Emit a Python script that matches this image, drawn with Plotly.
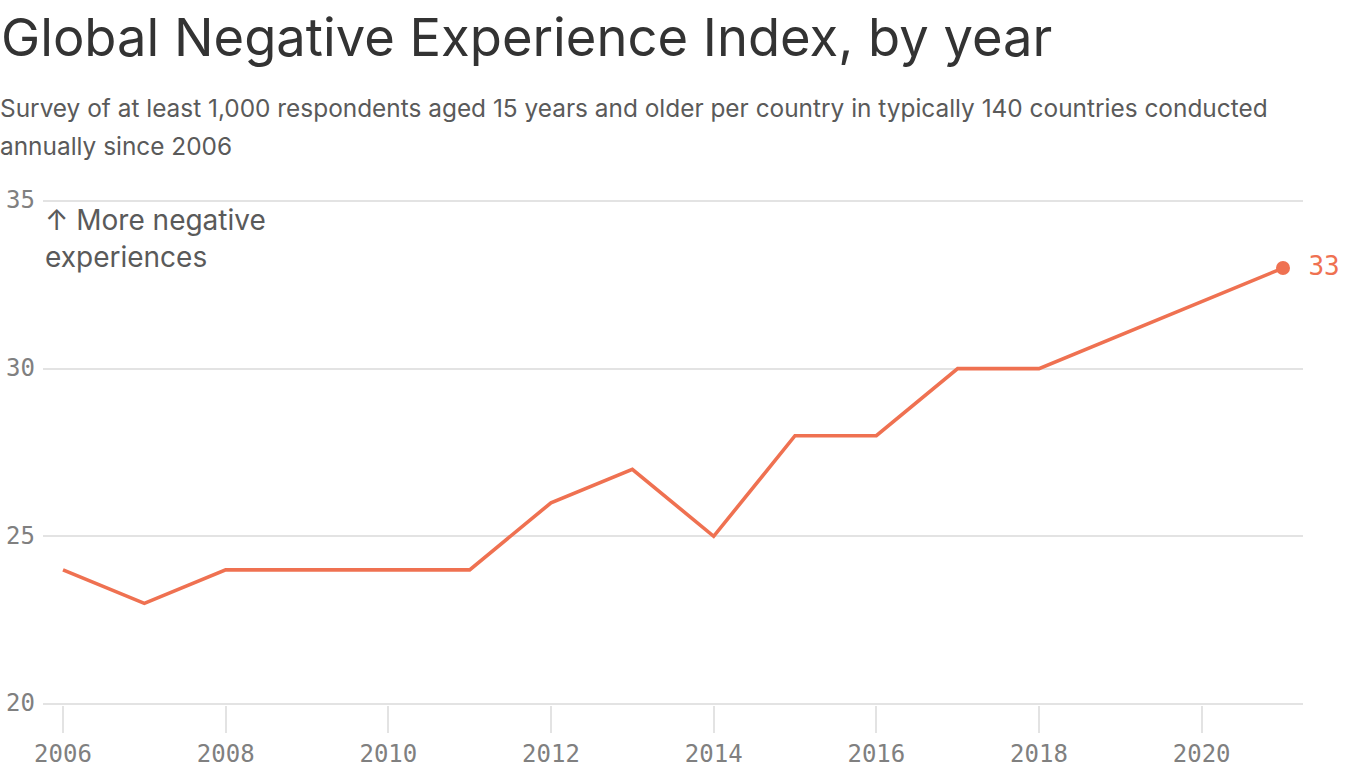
import plotly.graph_objects as go

years = list(range(2006, 2022))
index_values = [24, 23, 24, 24, 24, 24, 26, 27, 25, 28, 28, 30, 30, 31, 32, 33]
x_ticks = [2006, 2008, 2010, 2012, 2014, 2016, 2018, 2020]
y_ticks = [20, 25, 30, 35]

title = 'Global Negative Experience Index, by year'
subtitle_lines = [
    'Survey of at least 1,000 respondents aged 15 years and older per country in typically 140 countries conducted',
    'annually since 2006',
]
axis_note_lines = ['↑ More negative', 'experiences']

line_color = '#ef7151'
grid_color = '#e3e3e3'
mono = 'DejaVu Sans Mono'
sans = 'Inter'

# plot area in pixels
W, H = 1366, 768
L, R, T, B = 43, 63, 200, 63
pw, ph = W - L - R, H - T - B


def px_x(x):
    # pixel -> paper x
    return (x - L) / pw


def px_y(y):
    # pixel (from top) -> paper y
    return 1 - (y - T) / ph


fig = go.Figure()

fig.add_trace(go.Scatter(
    x=years, y=index_values,
    mode='lines',
    line=dict(color=line_color, width=3.6),
    hoverinfo='x+y',
    showlegend=False
))

# end point with label
fig.add_trace(go.Scatter(
    x=years[-1:], y=index_values[-1:],
    mode='markers+text',
    marker=dict(color=line_color, size=14),
    text=[f' {index_values[-1]}'],
    textposition='middle right',
    textfont=dict(family=mono, size=26, color=line_color),
    cliponaxis=False,
    showlegend=False
))

annotations = [
    dict(
        text=title,
        x=px_x(-1), y=px_y(37),
        yanchor='middle',
        font=dict(family=sans, size=52.5, color='#333333'),
    ),
]
for i, line in enumerate(subtitle_lines):
    annotations.append(dict(
        text=line,
        x=px_x(-2), y=px_y(108 + 38 * i),
        yanchor='middle',
        font=dict(family=sans, size=24.4, color='#5a5a5a'),
    ))
for i, line in enumerate(axis_note_lines):
    annotations.append(dict(
        text=line,
        x=px_x(43), y=px_y(220 + 37 * i),
        yanchor='middle',
        font=dict(family=sans, size=28, color='#5a5a5a'),
    ))
for a in annotations:
    a.update(xref='paper', yref='paper', xanchor='left', showarrow=False, align='left')

fig.update_layout(
    width=W, height=H,
    margin=dict(l=L, r=R, t=T, b=B),
    plot_bgcolor='white',
    paper_bgcolor='white',
    xaxis=dict(
        range=[2005.754, 2021.246],
        tickvals=x_ticks,
        automargin=False,
        showgrid=False,
        zeroline=False,
        showline=False,
        ticks='outside',
        ticklen=27,
        tickwidth=2,
        tickcolor=grid_color,
        tickfont=dict(family=mono, size=24, color='#808080'),
    ),
    yaxis=dict(
        range=[19.97, 35.03],
        tickvals=y_ticks,
        automargin=False,
        showgrid=True,
        gridcolor=grid_color,
        gridwidth=2,
        zeroline=False,
        showline=False,
        ticklabelstandoff=7,
        ticklabelshift=-1,
        tickfont=dict(family=mono, size=24, color='#808080'),
    ),
    annotations=annotations,
)

# drop the default body margin so the figure sits at the page corner
fig.write_html('out.html', config={'displayModeBar': False},
               post_script="document.body.style.margin='0';")
